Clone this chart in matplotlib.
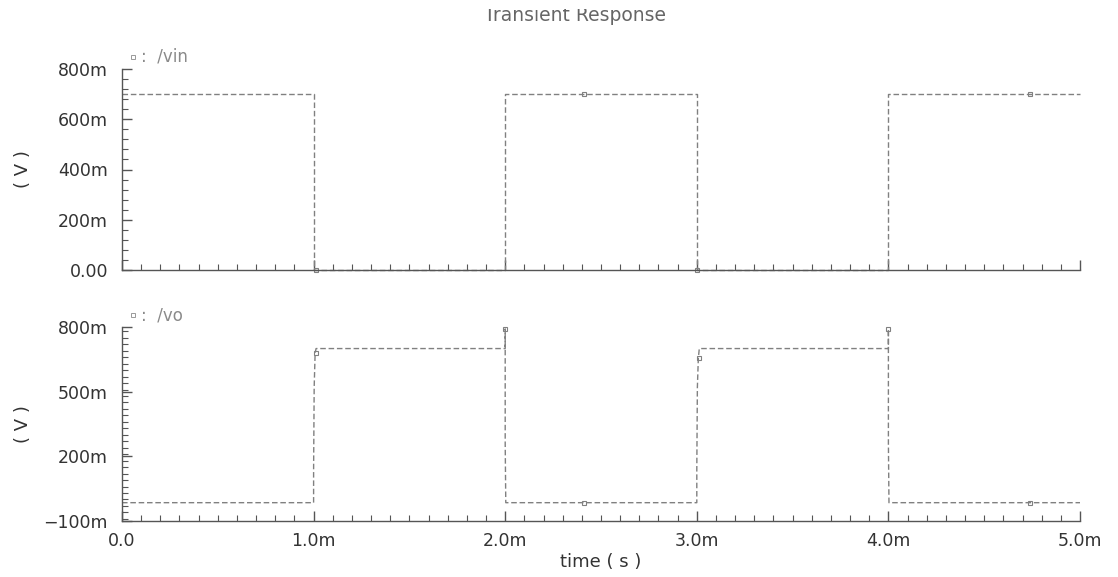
import numpy as np
import matplotlib
matplotlib.use('Agg')
import matplotlib.pyplot as plt
from matplotlib.ticker import MultipleLocator, FixedLocator, FixedFormatter
from matplotlib.transforms import Bbox

plt.rcParams['font.family'] = ['DejaVu Sans']

# time in ms
vin_t = [0.0, 1.0, 1.0, 2.0, 2.0, 3.0, 3.0, 4.0, 4.0, 5.0]
vin_v = [0.70, 0.70, 0.0, 0.0, 0.70, 0.70, 0.0, 0.0, 0.70, 0.70]

vo_t = [0.0, 1.0, 1.0, 1.003, 1.008, 1.013, 2.0, 2.0, 2.0, 2.003, 3.0, 3.0, 3.003, 3.008, 3.013,
        4.0, 4.0, 4.0, 4.003, 5.0]
vo_v = [-0.015, -0.015, 0.137, 0.52, 0.68, 0.70, 0.70, 0.79, 0.26, -0.015, -0.015, 0.137, 0.52,
        0.655, 0.70, 0.70, 0.79, 0.26, -0.015, -0.015]

# marker points along each trace
vin_mk_t = [1.01, 2.41, 3.0, 4.74]
vin_mk_v = [0.0, 0.70, 0.0, 0.70]
vo_mk_t = [1.01, 2.0, 2.41, 3.01, 4.0, 4.74]
vo_mk_v = [0.68, 0.79, -0.015, 0.655, 0.79, -0.015]

top_ticks = [0.0, 0.2, 0.4, 0.6, 0.8]
top_labels = ['0.00', '200m', '400m', '600m', '800m']
bot_ticks = [-0.1, 0.2, 0.5, 0.8]
bot_labels = ['\u2212100m', '200m', '500m', '800m']
x_ticks = [0, 1, 2, 3, 4, 5]
x_labels = ['0.0', '1.0m', '2.0m', '3.0m', '4.0m', '5.0m']

W, H = 1118, 577
fig = plt.figure(figsize=(W / 100, H / 100), dpi=100)
left = 122 / W
width = (1080 - 122) / W
ax1 = fig.add_axes([left, 1 - 270 / H, width, 201 / H])
ax2 = fig.add_axes([left, 1 - 521 / H, width, 194 / H])

lc = '#808080'
txt = '#333333'

def style(ax, yt, yl, ymin, ymax, yminor):
    ax.set_xlim(0, 5)
    ax.set_ylim(ymin, ymax)
    for s in ['top', 'right']:
        ax.spines[s].set_visible(False)
    for s in ['left', 'bottom']:
        ax.spines[s].set_color('#555555')
        ax.spines[s].set_linewidth(1.0)
    ax.xaxis.set_major_locator(FixedLocator(x_ticks))
    ax.xaxis.set_minor_locator(MultipleLocator(0.1))
    ax.yaxis.set_major_locator(FixedLocator(yt))
    ax.yaxis.set_major_formatter(FixedFormatter(yl))
    ax.yaxis.set_minor_locator(MultipleLocator(yminor))
    ax.tick_params(which='both', direction='in', colors='#555555', labelcolor=txt,
                   labelsize=12.5)
    ax.tick_params(which='major', length=7, width=1)
    ax.tick_params(which='minor', length=4, width=0.8)
    ax.tick_params(axis='y', pad=10)
    ax.tick_params(axis='x', pad=8)
    ax.set_ylabel('( V )', fontsize=13, color=txt)
    ax.yaxis.set_label_coords(-0.094, 0.5)

style(ax1, top_ticks, top_labels, 0.0, 0.8, 0.04)
style(ax2, bot_ticks, bot_labels, -0.1, 0.8, 0.03)
ax1.set_xticklabels([])
ax2.set_xticklabels(x_labels)
ax2.set_xlabel('time ( s )', fontsize=13, color=txt, labelpad=2)

ax1.plot(vin_t, vin_v, color=lc, lw=1.0, dashes=(4, 2), clip_on=False)
ax1.plot(vin_mk_t, vin_mk_v, ls='none', marker='s', ms=3, mfc='none', mec=lc, mew=0.8,
         clip_on=False)
ax2.plot(vo_t, vo_v, color=lc, lw=1.0, dashes=(4, 2), clip_on=False)
ax2.plot(vo_mk_t, vo_mk_v, ls='none', marker='s', ms=3, mfc='none', mec=lc, mew=0.8,
         clip_on=False)

# trace names above each panel
for ax, name in [(ax1, '/vin'), (ax2, '/vo')]:
    ax.plot([0.012], [1.06], transform=ax.transAxes, marker='s', ms=2.5, mfc='none',
            mec='#999999', mew=0.7, clip_on=False)
    ax.text(0.02, 1.06, ':  ' + name, transform=ax.transAxes, fontsize=12,
            color='#8a8a8a', va='center', ha='left')

# title sits at the top edge, upper part clipped away
title = fig.text(575 / W, 1 - 21 / H, 'Transient Response', ha='center', va='baseline',
                 fontsize=13.5, color='#666666')
title.set_clip_box(Bbox([[0, 0], [W, H - 9]]))
title.set_clip_on(True)

fig.savefig('out.png', dpi=100)
